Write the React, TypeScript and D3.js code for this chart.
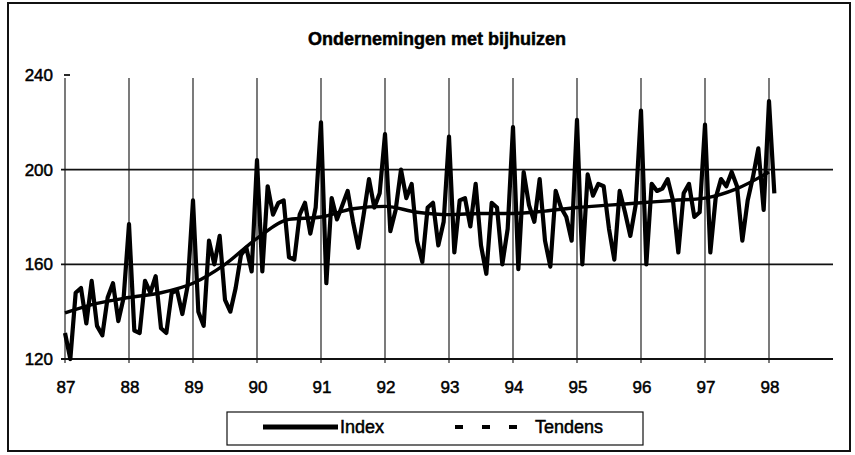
import React from 'react';
import * as d3 from 'd3';

const title = 'Ondernemingen met bijhuizen';
const yearLabels = ['87', '88', '89', '90', '91', '92', '93', '94', '95', '96', '97', '98'];
const yTicks = [120, 160, 200, 240];
const legendLabels = ['Index', 'Tendens'];

// monthly index, January .. December
const index1987 = [131, 120, 148, 150, 135, 153, 134, 130, 146, 152, 136, 146];
const index1988 = [177, 132, 131, 153, 148, 155, 133, 131, 148, 149, 139, 151];
const index1989 = [187, 140, 134, 170, 160, 172, 145, 140, 150, 164, 167, 157];
const index1990 = [204, 157, 193, 181, 186, 187, 163, 162, 181, 186, 173, 184];
const index1991 = [220, 152, 188, 179, 185, 191, 178, 167, 181, 196, 184, 190];
const index1992 = [215, 174, 183, 200, 188, 194, 170, 161, 184, 186, 168, 178];
const index1993 = [214, 165, 187, 188, 176, 194, 168, 156, 186, 184, 160, 175];
const index1994 = [218, 158, 199, 185, 178, 196, 170, 159, 191, 184, 180, 170];
const index1995 = [221, 160, 198, 189, 194, 193, 175, 162, 191, 182, 172, 185];
const index1996 = [225, 160, 194, 191, 192, 196, 187, 165, 190, 194, 180, 182];
const index1997 = [219, 165, 188, 196, 193, 199, 193, 170, 187, 197, 209, 183];
const index1998 = [229, 190];

// trend, read every half year (month number since Jan 87)
const tendensMonths = [0, 6, 12, 18, 24, 30, 36, 42, 48, 54, 60, 66, 72, 78, 84, 90, 96, 102, 108, 114, 120, 126, 132];
const tendensValues = [139.5, 143.5, 146, 148, 152, 160, 171, 179, 180, 183.5, 184.5, 182, 181, 181.5, 181.5, 182.5, 184, 185, 186, 187, 188, 192, 199];

const indexValues = [
  ...index1987, ...index1988, ...index1989, ...index1990, ...index1991, ...index1992,
  ...index1993, ...index1994, ...index1995, ...index1996, ...index1997, ...index1998,
];

const font = '"Liberation Sans", Arial, sans-serif';

export default function App() {
  const width = 855;
  const height = 455;

  const x = d3.scaleLinear().domain([0, 144]).range([65, 833]);
  const y = d3.scaleLinear().domain([120, 240]).range([359, 75]);

  const indexLine = d3.line<number>()
    .x((d, i) => x(i))
    .y(d => y(d));

  const trendPoints = tendensMonths.map((m, i) => [m, tendensValues[i]] as [number, number]);
  const trendLine = d3.line<[number, number]>()
    .x(d => x(d[0]))
    .y(d => y(d[1]))
    .curve(d3.curveMonotoneX);

  // scanned print looks heavy, thicken the glyphs a bit
  const heavy = { stroke: '#000', strokeWidth: 0.5 };

  return (
    <svg width={width} height={height} style={{ position: 'absolute', left: 0, top: 0, background: '#fff' }}
      fontFamily={font}>
      <rect x={0} y={0} width={width} height={height} fill="#fff" />
      {/* outer frame */}
      <rect x={8} y={3} width={842} height={448} fill="none" stroke="#111" strokeWidth={2} />

      <text x={437} y={45} textAnchor="middle" fontSize={18} fontWeight="bold" {...heavy}>{title}</text>

      {/* vertical grid at each year */}
      {yearLabels.map((lab, i) => (
        <line key={'v' + lab} x1={x(i * 12)} x2={x(i * 12)} y1={y(240) + 3} y2={y(120) + 4}
          stroke="#222" strokeWidth={1.2} />
      ))}

      {/* horizontal grid */}
      {yTicks.filter(t => t < 240).map(t => (
        <line key={'h' + t} x1={61} x2={833} y1={y(t)} y2={y(t)}
          stroke="#111" strokeWidth={t === 120 ? 2.2 : 1.6} />
      ))}
      <line x1={64} x2={70} y1={y(240)} y2={y(240)} stroke="#111" strokeWidth={1.8} />

      {yTicks.map(t => (
        <text key={'yl' + t} x={53} y={y(t)} dy="0.36em" textAnchor="end" fontSize={17} {...heavy}>{t}</text>
      ))}

      {yearLabels.map((lab, i) => (
        <text key={'xl' + lab} x={x(i * 12) + 1} y={393} textAnchor="middle" fontSize={17} {...heavy}>{lab}</text>
      ))}

      <path d={trendLine(trendPoints) || ''} fill="none" stroke="#000" strokeWidth={3.4} />
      <path d={indexLine(indexValues) || ''} fill="none" stroke="#000" strokeWidth={4.2}
        strokeLinejoin="round" />

      {/* legend */}
      <rect x={227} y={412} width={416} height={33} fill="none" stroke="#111" strokeWidth={1.2} />
      <line x1={263} x2={338} y1={427} y2={427} stroke="#000" strokeWidth={5} />
      <text x={340} y={433} fontSize={18} {...heavy}>{legendLabels[0]}</text>
      <line x1={455} x2={518} y1={427} y2={427} stroke="#000" strokeWidth={4} strokeDasharray="8,19" />
      <text x={535} y={433} fontSize={18} {...heavy}>{legendLabels[1]}</text>
    </svg>
  );
}
